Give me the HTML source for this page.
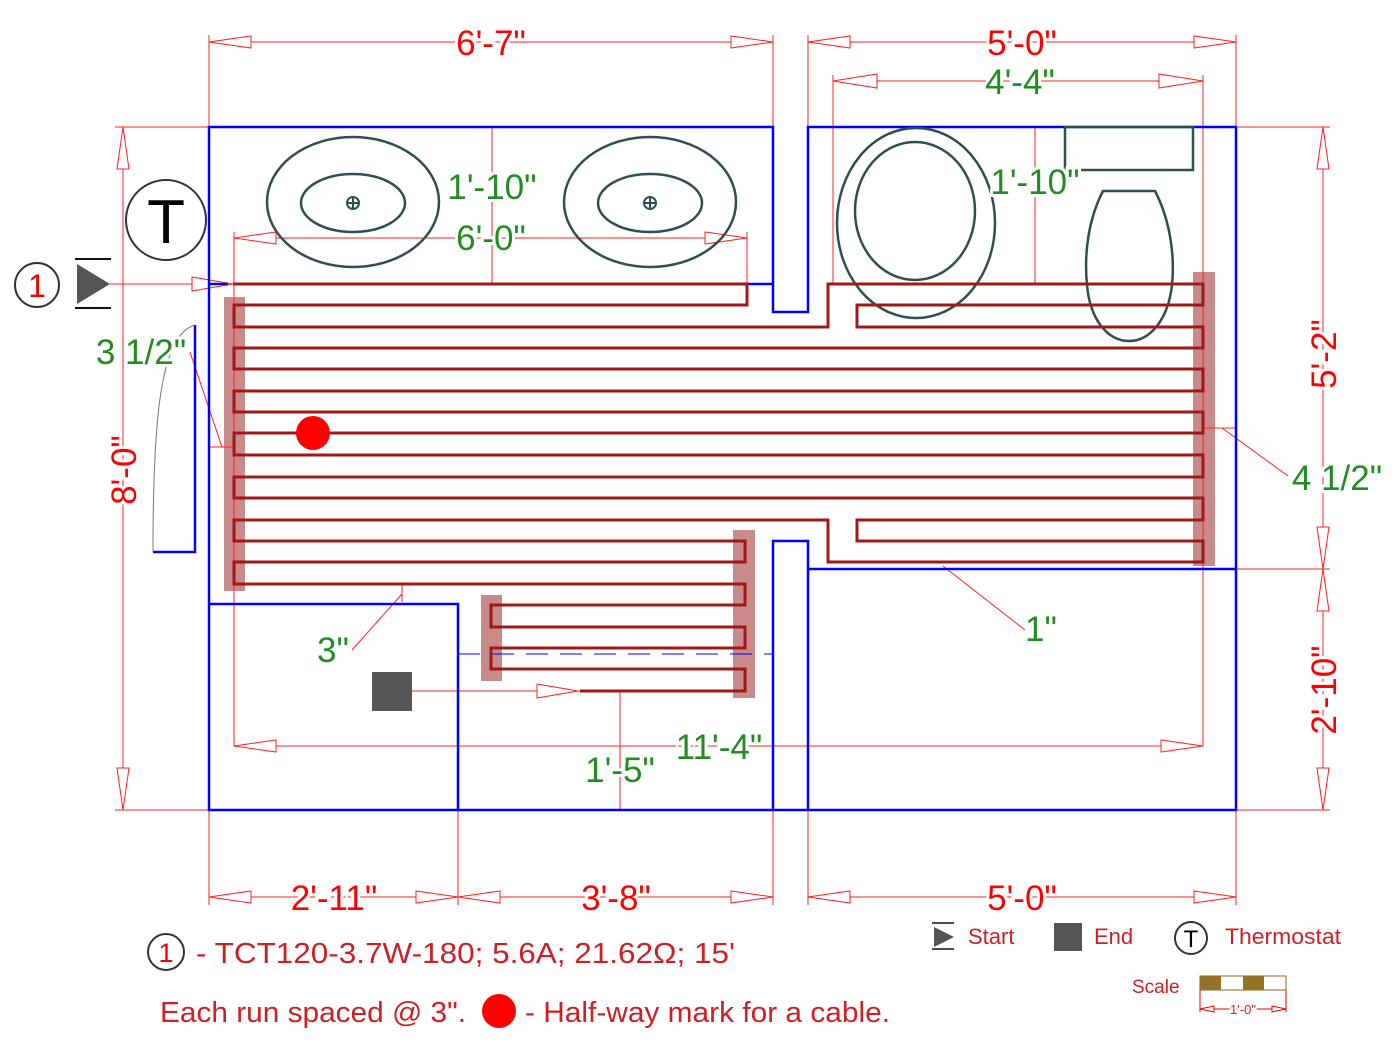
<!DOCTYPE html>
<html><head><meta charset="utf-8"><style>
html,body{margin:0;padding:0;background:#fff;}
svg{display:block;font-family:"Liberation Sans",sans-serif;}
.dim{stroke:#ff2020;stroke-width:1;fill:none;}
.arr{stroke:#ff2020;stroke-width:1;fill:#fff;}
.wall{stroke:#0000ff;stroke-width:2.5;fill:none;}
.fx{stroke:#2f4f4f;stroke-width:2.5;fill:none;}
.cab{stroke:#a01818;stroke-width:3;fill:none;stroke-linejoin:miter;}
.bar{fill:#c98a8a;}
.rt{fill:#ff0000;font-size:35px;paint-order:stroke;stroke:#fff;stroke-width:6px;}
.gt{fill:#228b22;font-size:35px;paint-order:stroke;stroke:#fff;stroke-width:6px;}
.lt{fill:#cc2026;}
</style></head><body>
<svg width="1400" height="1049" viewBox="0 0 1400 1049" xmlns="http://www.w3.org/2000/svg">
<rect class="bar" x="224" y="297" width="21" height="294"/>
<rect class="bar" x="1193" y="272" width="22" height="294"/>
<rect class="bar" x="733" y="530" width="22" height="168"/>
<rect class="bar" x="481" y="595" width="21" height="86"/>

<g class="dim">
 <line x1="209" y1="35" x2="209" y2="127"/><line x1="773" y1="35" x2="773" y2="127"/>
 <line x1="808" y1="35" x2="808" y2="127"/><line x1="1236" y1="35" x2="1236" y2="127"/>
 <line x1="209" y1="42" x2="773" y2="42"/><line x1="808" y1="42" x2="1236" y2="42"/>
 <line x1="833" y1="75" x2="833" y2="284"/><line x1="1203" y1="75" x2="1203" y2="746"/>
 <line x1="833" y1="81" x2="1203" y2="81"/>
 <line x1="492" y1="127" x2="492" y2="284"/><line x1="1035" y1="127" x2="1035" y2="284"/>
 <line x1="234" y1="238" x2="747" y2="238"/><line x1="747" y1="232" x2="747" y2="284"/>
 <line x1="234" y1="232" x2="234" y2="746"/>
 <line x1="115" y1="127" x2="209" y2="127"/><line x1="115" y1="810" x2="209" y2="810"/>
 <line x1="123" y1="127" x2="123" y2="810"/>
 <line x1="1236" y1="127" x2="1330" y2="127"/><line x1="1236" y1="569" x2="1330" y2="569"/><line x1="1236" y1="810" x2="1330" y2="810"/>
 <line x1="1323" y1="127" x2="1323" y2="810"/>
 <line x1="209" y1="810" x2="209" y2="905"/><line x1="458" y1="810" x2="458" y2="905"/>
 <line x1="773" y1="810" x2="773" y2="905"/><line x1="808" y1="810" x2="808" y2="905"/><line x1="1236" y1="810" x2="1236" y2="905"/>
 <line x1="209" y1="897" x2="773" y2="897"/><line x1="808" y1="897" x2="1236" y2="897"/>
 <line x1="234" y1="746" x2="1203" y2="746"/>
 <line x1="620" y1="691" x2="620" y2="810"/>
 <line x1="110" y1="284" x2="233" y2="284"/>
 <line x1="412" y1="691" x2="580" y2="691"/>
 <line x1="190" y1="352" x2="222" y2="447"/><line x1="209" y1="447" x2="234" y2="447"/>
 <line x1="1203" y1="428" x2="1236" y2="428"/><line x1="1222" y1="428" x2="1288" y2="476"/>
 <line x1="943" y1="566" x2="1025" y2="630"/>
 <line x1="402" y1="584" x2="402" y2="602"/><line x1="402" y1="594" x2="352" y2="650"/>
</g>
<g class="arr">
 <polygon points="209,42 251,36 251,48"/><polygon points="773,42 731,36 731,48"/>
 <polygon points="808,42 850,36 850,48"/><polygon points="1236,42 1194,36 1194,48"/>
 <polygon points="833,81 877,74 877,88"/><polygon points="1203,81 1159,74 1159,88"/>
 <polygon points="234,238 276,232 276,244"/><polygon points="747,238 705,232 705,244"/>
 <polygon points="123,127 117,169 129,169"/><polygon points="123,810 117,768 129,768"/>
 <polygon points="1323,127 1317,169 1329,169"/><polygon points="1323,569 1317,527 1329,527"/>
 <polygon points="1323,569 1317,611 1329,611"/><polygon points="1323,810 1317,768 1329,768"/>
 <polygon points="209,897 251,891 251,903"/><polygon points="458,897 416,891 416,903"/>
 <polygon points="458,897 500,891 500,903"/><polygon points="773,897 731,891 731,903"/>
 <polygon points="808,897 850,891 850,903"/><polygon points="1236,897 1194,891 1194,903"/>
 <polygon points="234,746 276,740 276,752"/><polygon points="1203,746 1161,740 1161,752"/>
 <polygon points="233,284 192,277 192,291"/>
 <polygon points="578,691 537,684 537,698"/>
</g>

<g class="wall">
 <polyline points="773,284 773,127 209,127 209,810 1236,810 1236,127 808,127 808,312 773,312 773,284 747,284"/>
 <line x1="209" y1="284" x2="228" y2="284"/>
 <polyline points="773,810 773,541 808,541 808,810"/>
 <line x1="808" y1="569" x2="1236" y2="569"/>
 <polyline points="209,604 458,604 458,810"/>
 <polyline points="195,325 195,552 153,552"/>
 <line x1="458" y1="654" x2="773" y2="654" stroke-width="1" stroke-dasharray="22,12"/>
</g>
<path d="M195,325 C160,335 153,420 153,552" stroke="#777" stroke-width="1" fill="none"/>

<g class="fx">
 <ellipse cx="353" cy="202" rx="86" ry="65"/><ellipse cx="353" cy="203" rx="52" ry="29"/>
 <circle cx="353" cy="203" r="6" stroke-width="2"/><line x1="347" y1="203" x2="359" y2="203" stroke-width="2"/><line x1="353" y1="197" x2="353" y2="209" stroke-width="2"/>
 <ellipse cx="650" cy="202" rx="86" ry="65"/><ellipse cx="650" cy="203" rx="52" ry="29"/>
 <circle cx="650" cy="203" r="6" stroke-width="2"/><line x1="644" y1="203" x2="656" y2="203" stroke-width="2"/><line x1="650" y1="197" x2="650" y2="209" stroke-width="2"/>
 <ellipse cx="916" cy="223" rx="79" ry="95"/><ellipse cx="915" cy="211" rx="60" ry="69"/>
 <rect x="1065" y="127" width="128" height="43"/>
 <path d="M1103,191 L1155,191 C1170,220 1175,255 1172,285 C1168,320 1150,341 1129,341 C1108,341 1090,320 1087,285 C1084,255 1088,220 1103,191 Z"/>
</g>

<g class="cab">
 <path d="M233,284 H747 V305 H234 V327 H828 V284 H1203 V305 H857 V327 H1203 V348 H234 V369 H1203 V391 H234 V412 H1203 V433 H234 V455 H1203 V477 H234 V498 H1203 V520 H857 V541 H1203 V562 H828 V520 H234 V541 H745 V562 H234 V584 H745 V605 H491 V627 H745 V648 H491 V669 H745 V691 H580"/>
</g>
<line x1="402" y1="584" x2="402" y2="602" stroke="#ff2020" stroke-width="1"/>

<circle cx="313" cy="433" r="17" fill="#ff0000"/>
<rect x="372" y="672" width="40" height="39" fill="#555"/>
<circle cx="166" cy="220" r="40" fill="#fff" stroke="#333" stroke-width="2"/>
<text x="166" y="243" font-size="62" text-anchor="middle" fill="#000">T</text>
<circle cx="37" cy="285" r="22" fill="none" stroke="#333" stroke-width="2"/>
<text x="37" y="297" font-size="32" text-anchor="middle" fill="#e00">1</text>
<polygon points="77,264 110,284 77,304" fill="#555"/>
<line x1="75" y1="259" x2="111" y2="259" stroke="#111" stroke-width="2"/>
<line x1="75" y1="308" x2="111" y2="308" stroke="#111" stroke-width="2"/>

<text class="rt" x="491" y="55" text-anchor="middle">6'-7"</text>
<text class="rt" x="1022" y="55" text-anchor="middle">5'-0"</text>
<text class="gt" x="1020" y="94" text-anchor="middle">4'-4"</text>
<text class="gt" x="492" y="199" text-anchor="middle">1'-10"</text>
<text class="gt" x="491" y="250" text-anchor="middle">6'-0"</text>
<text class="gt" x="1035" y="194" text-anchor="middle">1'-10"</text>
<text class="gt" x="141" y="364" text-anchor="middle">3 1/2"</text>
<text class="gt" x="1337" y="490" text-anchor="middle">4 1/2"</text>
<text class="gt" x="1041" y="641" text-anchor="middle">1"</text>
<text class="gt" x="333" y="662" text-anchor="middle">3"</text>
<text class="gt" x="620" y="782" text-anchor="middle">1'-5"</text>
<text class="gt" x="719" y="759" text-anchor="middle">11'-4"</text>
<text class="rt" x="334" y="910" text-anchor="middle">2'-11"</text>
<text class="rt" x="616" y="910" text-anchor="middle">3'-8"</text>
<text class="rt" x="1022" y="910" text-anchor="middle">5'-0"</text>
<text class="rt" text-anchor="middle" transform="translate(136,470) rotate(-90)">8'-0"</text>
<text class="rt" text-anchor="middle" transform="translate(1336,354) rotate(-90)">5'-2"</text>
<text class="rt" text-anchor="middle" transform="translate(1336,690) rotate(-90)">2'-10"</text>

<circle cx="166" cy="952" r="18" fill="none" stroke="#333" stroke-width="2"/>
<text x="166" y="962" font-size="27" text-anchor="middle" fill="#e00">1</text>
<text class="lt" x="196" y="963" font-size="29" textLength="539" lengthAdjust="spacingAndGlyphs">- TCT120-3.7W-180; 5.6A; 21.62Ω; 15'</text>
<text class="lt" x="160" y="1022" font-size="29" textLength="306" lengthAdjust="spacingAndGlyphs">Each run spaced @ 3".</text>
<circle cx="499" cy="1011" r="17" fill="#ff0000"/>
<text class="lt" x="525" y="1022" font-size="29" textLength="365" lengthAdjust="spacingAndGlyphs">- Half-way mark for a cable.</text>

<polygon points="934,927 954,937 934,947" fill="#555"/>
<line x1="932" y1="923" x2="954" y2="923" stroke="#111" stroke-width="1.5"/>
<line x1="932" y1="949" x2="954" y2="949" stroke="#111" stroke-width="1.5"/>
<text class="lt" x="968" y="944" font-size="22">Start</text>
<rect x="1054" y="923" width="28" height="28" fill="#555"/>
<text class="lt" x="1094" y="944" font-size="22">End</text>
<circle cx="1191" cy="938" r="16" fill="none" stroke="#333" stroke-width="2"/>
<text x="1191" y="947" font-size="24" text-anchor="middle" fill="#000">T</text>
<text class="lt" x="1225" y="944" font-size="22" textLength="116" lengthAdjust="spacingAndGlyphs">Thermostat</text>
<text class="lt" x="1132" y="993" font-size="19">Scale</text>
<rect x="1200" y="976" width="86" height="14" fill="#fff" stroke="#8b6914" stroke-width="1"/>
<rect x="1200" y="976" width="21" height="14" fill="#967228"/>
<rect x="1243" y="976" width="21" height="14" fill="#967228"/>
<line x1="1200" y1="990" x2="1200" y2="1012" stroke="#e00" stroke-width="1"/>
<line x1="1286" y1="990" x2="1286" y2="1012" stroke="#e00" stroke-width="1"/>
<line x1="1200" y1="1009" x2="1286" y2="1009" stroke="#e00" stroke-width="1"/>
<polygon points="1200,1009 1214,1006 1214,1012" fill="#fff" stroke="#e00" stroke-width="1"/>
<polygon points="1286,1009 1272,1006 1272,1012" fill="#fff" stroke="#e00" stroke-width="1"/>
<text x="1243" y="1014" font-size="13" text-anchor="middle" fill="#cc2026" paint-order="stroke" stroke="#fff" stroke-width="3">1'-0"</text>
</svg>
</body></html>
